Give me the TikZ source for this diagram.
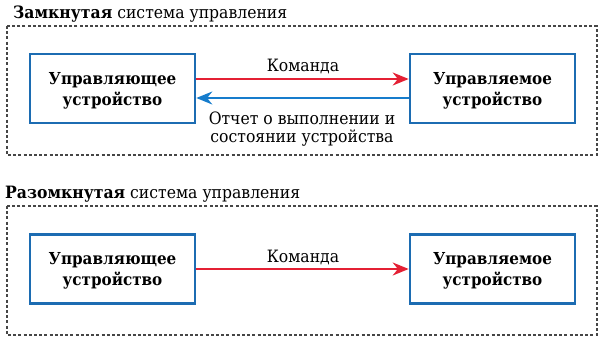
\documentclass[tikz,border=0pt]{standalone}
\usepackage{fontspec}
\setmainfont{DejaVu Serif}[FakeStretch=0.92]
\usetikzlibrary{arrows.meta,positioning,calc}
\definecolor{boxblue}{RGB}{28,108,178}
\definecolor{cmdred}{RGB}{228,32,52}
\definecolor{repblue}{RGB}{22,124,204}
\definecolor{framegray}{RGB}{70,70,70}

\begin{document}
\begin{tikzpicture}[
  x=1pt, y=-1pt,
  device/.style={draw=boxblue, line width=2.6pt, fill=white, align=center, font=\fontsize{16.5}{21}\selectfont\bfseries, minimum width=165pt, minimum height=69pt, inner sep=0pt, text depth=0pt},
  frame/.style={draw=framegray, line width=1.1pt, dash pattern=on 3pt off 2.2pt},
  title/.style={anchor=base west, inner sep=0pt, font=\fontsize{17}{18}\selectfont},
  label/.style={align=center, inner sep=0pt, font=\fontsize{17}{18}\selectfont},
  cmdarrow/.style={-{Stealth[length=16pt,width=13pt]}, line width=2pt, draw=cmdred},
  reparrow/.style={-{Stealth[length=16pt,width=13pt]}, line width=2pt, draw=repblue}
]
\useasboundingbox (0,0) rectangle (600,341);

% closed loop
\node[title] (closedtitle) at (13,18) {\textbf{Замкнутая} система управления};
\draw[frame] (7,26) rectangle (597,155);
\node[device] (closeddev) at (492.5,88.5) {Управляемое\\устройство};
\node[device] (closedctrl) at (112.5,88.5) {Управляющее\\устройство};
\draw[cmdarrow] ([yshift=9.5pt]closedctrl.east) -- ([yshift=9.5pt]closeddev.west);
\draw[reparrow] ([yshift=-9.5pt]closeddev.west) -- ([yshift=-9.5pt]closedctrl.east);
\node[label, anchor=base] (closedcmd) at (303,71) {Команда};
\node[label] (closedrep) at (302,129) {Отчет о выполнении и\\состоянии устройства};

% open loop
\node[title] (opentitle) at (5,198) {\textbf{Разомкнутая} система управления};
\draw[frame] (7,206) rectangle (597,335);
\node[device] (openctrl) at (112.5,269) {Управляющее\\устройство};
\node[device] (opendev) at (492.5,269) {Управляемое\\устройство};
\draw[cmdarrow] (openctrl) -- (opendev);
\node[label, anchor=base] (opencmd) at (303,262) {Команда};
\end{tikzpicture}
\end{document}
